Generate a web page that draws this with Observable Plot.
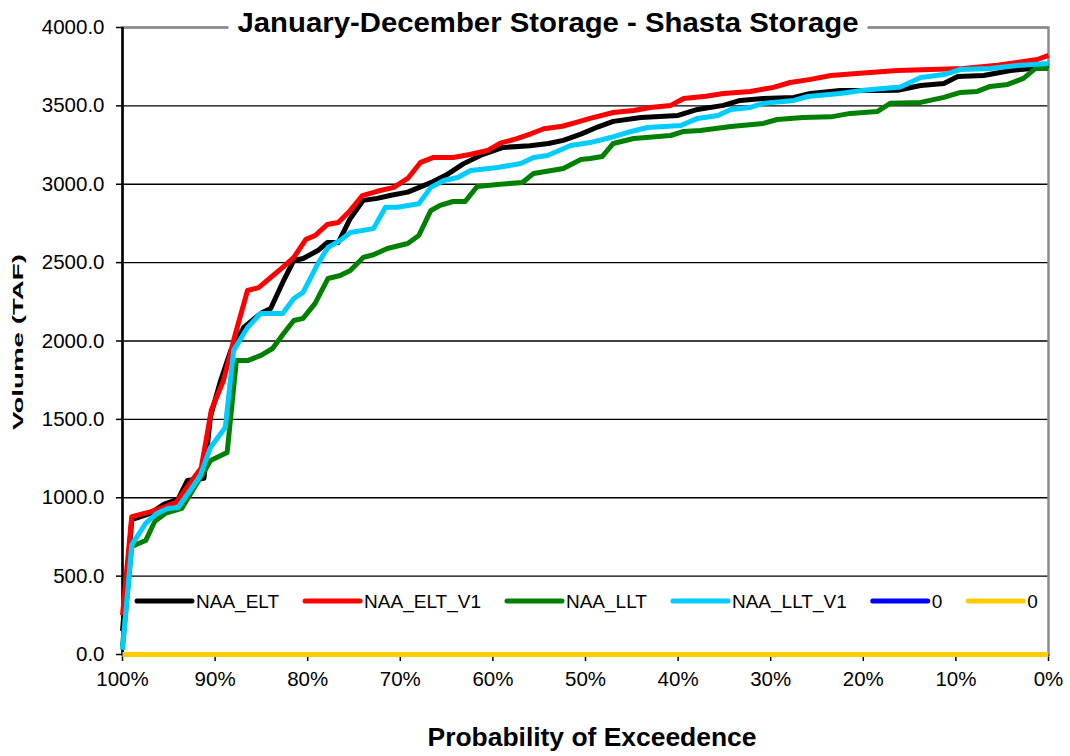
<!DOCTYPE html>
<html><head><meta charset="utf-8">
<script src="https://cdn.jsdelivr.net/npm/d3@7"></script>
<script src="https://cdn.jsdelivr.net/npm/@observablehq/plot@0.6"></script>
<style>
body{margin:0;background:#fff}
#chart{position:relative;width:1070px;height:756px}
</style>
</head><body><div id="chart"></div>
<script>
const titleText = "January-December Storage - Shasta Storage";
const xLabel = "Probability of Exceedence";
const yLabel = "Volume (TAF)";
const xTicks = [100, 90, 80, 70, 60, 50, 40, 30, 20, 10, 0];
const yTicks = [0, 500, 1000, 1500, 2000, 2500, 3000, 3500, 4000];

const seriesNames = ["NAA_ELT", "NAA_ELT_V1", "NAA_LLT", "NAA_LLT_V1", "0", "0"];
const seriesColors = ["#000000", "#ff0000", "#008000", "#00ccff", "#0000ff", "#ffcc00"];

const eltPct = [100,99,97,95.5,94,93,91.2,90.5,89.4,88.3,86.9,85.1,84,82.6,81.5,80.5,78.9,77.9,76.7,75.4,74,72.5,71,69.2,66.7,65,63.2,61.3,58.9,56,54,52.4,50.5,48.7,47,44,40,37.9,35.1,33.3,30.8,27.5,25.7,22.5,19,16.3,13.8,11.3,9.8,7,4.1,1.9,0];
const eltVal = [150,860,900,960,990,1110,1125,1520,1748,1940,2086,2175,2207,2386,2514,2526,2577,2628,2628,2782,2897,2910,2930,2950,3010,3060,3130,3185,3235,3245,3260,3280,3320,3365,3401,3426,3439,3477,3503,3535,3547,3554,3579,3598,3598,3600,3630,3643,3688,3694,3726,3739,3758];

const eltV1Pct = [100,99,97,95.5,94.2,92.9,91.5,90.4,89.1,87.8,86.5,85.3,84,82.6,81.5,80.2,79.2,77.9,76.7,75.4,74.1,72.5,70.7,69.2,67.8,66.4,64.3,62.5,60.6,59.2,57.5,55.9,54.5,52.5,50.9,49.5,47,44.8,43,40.8,39.4,37,35.1,32.2,29.7,27.9,25.7,23.5,20,16.3,9.2,5.5,3.4,1.2,0];
const eltV1Val = [250,880,910,940,970,1078,1190,1560,1748,2048,2322,2341,2405,2475,2533,2648,2673,2743,2756,2833,2928,2955,2980,3037,3140,3171,3171,3190,3215,3262,3290,3322,3354,3370,3396,3420,3458,3471,3490,3503,3547,3562,3579,3592,3618,3649,3669,3694,3710,3726,3739,3760,3777,3796,3822];

const lltPct = [100,99,97.5,96.5,95.4,93.6,92.3,91.3,90.5,88.7,87.7,86.4,85,83.8,82.6,81.5,80.5,79.2,77.8,76.5,75.4,74,72.9,71.4,69.2,68,66.7,65.7,64.3,63,61.7,59.5,56.8,55.6,52.4,50.5,49.5,48.2,47,44.8,40.8,39.4,37.6,34.3,30.8,29.3,26.5,23.5,21.4,18.5,17.1,13.8,11.3,9.5,7.7,6.3,4.4,2.7,1.4,0];
const lltVal = [50,690,727,850,900,932,1059,1155,1238,1289,1876,1876,1910,1952,2048,2131,2144,2240,2399,2418,2450,2533,2550,2590,2622,2673,2833,2865,2890,2890,2986,2999,3011,3069,3100,3158,3164,3177,3260,3292,3311,3337,3343,3369,3388,3413,3426,3430,3452,3464,3516,3522,3554,3586,3592,3624,3637,3675,3739,3739];

const lltV1Pct = [100,99,97.5,96.3,95.1,94,92.7,91.6,90.5,88.9,88,86.5,85.1,82.7,81.5,80.5,78.9,77.8,76.5,75.4,72.9,71.6,70.3,68,66.7,65.3,63.8,62.4,59.5,57,55.6,54.1,51.6,49.5,47.3,45.5,43.3,39.7,37.9,35.7,34.3,32.2,30.8,27.5,26,22.5,20,16,13.8,11.3,9.5,6.3,3.4,0];
const lltV1Val = [30,700,836,900,932,938,1046,1142,1321,1448,1940,2086,2175,2175,2271,2310,2494,2597,2641,2692,2717,2853,2853,2876,2980,3024,3043,3088,3107,3132,3171,3183,3247,3266,3298,3330,3362,3375,3420,3439,3477,3490,3516,3535,3560,3579,3600,3620,3681,3700,3732,3739,3758,3771];

const zeroPct = [100, 0];
const zeroVal = [0, 0];

const seriesPct = [eltPct, eltV1Pct, lltPct, lltV1Pct, zeroPct, zeroPct];
const seriesVal = [eltVal, eltV1Val, lltVal, lltV1Val, zeroVal, zeroVal];

const ids = seriesNames.map((n, i) => "s" + i);
const rows = ids.flatMap((id, i) => seriesPct[i].map((p, j) => ({id, pct: p, value: seriesVal[i][j]})));

const font = "Arial, 'Liberation Sans', Helvetica, sans-serif";

const plot = Plot.plot({
  width: 1070, height: 756,
  marginLeft: 122, marginRight: 22, marginTop: 27, marginBottom: 102,
  style: {fontFamily: font, background: "#fff", color: "#000", overflow: "visible"},
  x: {domain: [100, 0], label: null},
  y: {domain: [0, 4000], label: null},
  color: {domain: ids, range: seriesColors},
  marks: [
    Plot.gridY(yTicks, {stroke: "#000", strokeOpacity: 1, strokeWidth: 1.3}),
    Plot.frame({stroke: "#8c8c8c", strokeWidth: 2.5}),
    Plot.axisY({ticks: yTicks, tickFormat: d => d.toFixed(1), tickSize: 6, tickPadding: 12, fontSize: 20.5, stroke: "#000", strokeWidth: 1.5, label: null}),
    Plot.axisX({ticks: xTicks, tickFormat: d => d + "%", tickSize: 7, tickPadding: 10, fontSize: 20.5, stroke: "#000", strokeWidth: 1.5, label: null}),
    Plot.ruleX([100], {y1: 0, y2: 4000, stroke: "#000", strokeWidth: 2.5}),
    Plot.lineY(rows, {x: "pct", y: "value", z: "id", stroke: "id", strokeWidth: 5, strokeLinejoin: "round", strokeLinecap: "butt"})
  ]
});

document.getElementById("chart").appendChild(plot);
const svg = d3.select(plot);

// Title with white backing box interrupting the top border
const tg = svg.append("g");
const tbox = tg.append("rect").attr("fill", "#fff");
const tt = tg.append("text")
  .attr("x", 548).attr("y", 32)
  .attr("text-anchor", "middle")
  .attr("font-family", font).attr("font-weight", "bold").attr("font-size", 27)
  .attr("textLength", 621).attr("lengthAdjust", "spacingAndGlyphs")
  .attr("fill", "#000").text(titleText);
const bb = tt.node().getBBox();
tbox.attr("x", bb.x - 9).attr("y", bb.y).attr("width", bb.width + 18).attr("height", bb.height);

// Axis titles
svg.append("text")
  .attr("x", 592).attr("y", 746)
  .attr("text-anchor", "middle")
  .attr("font-family", font).attr("font-weight", "bold").attr("font-size", 25)
  .attr("textLength", 329).attr("lengthAdjust", "spacingAndGlyphs")
  .attr("fill", "#000").text(xLabel);
svg.append("text")
  .attr("transform", "translate(23,342) rotate(-90)")
  .attr("text-anchor", "middle")
  .attr("font-family", font).attr("font-weight", "bold").attr("font-size", 15)
  .attr("textLength", 176).attr("lengthAdjust", "spacingAndGlyphs")
  .attr("fill", "#000").text(yLabel);

// Legend inside the plot area
const lg = svg.append("g").attr("font-family", font).attr("font-size", 19).attr("text-anchor", "start");
let lx = 137;
const ly = 601;
seriesNames.forEach((name, i) => {
  lg.append("line").attr("x1", lx).attr("x2", lx + 55).attr("y1", ly).attr("y2", ly)
    .attr("stroke", seriesColors[i]).attr("stroke-width", 5).attr("stroke-linecap", "round");
  const t = lg.append("text").attr("x", lx + 59).attr("y", ly + 7)
    .attr("text-anchor", "start").attr("fill", "#000").text(name);
  lx += 59 + t.node().getComputedTextLength() + 26;
});
</script>
</body></html>
